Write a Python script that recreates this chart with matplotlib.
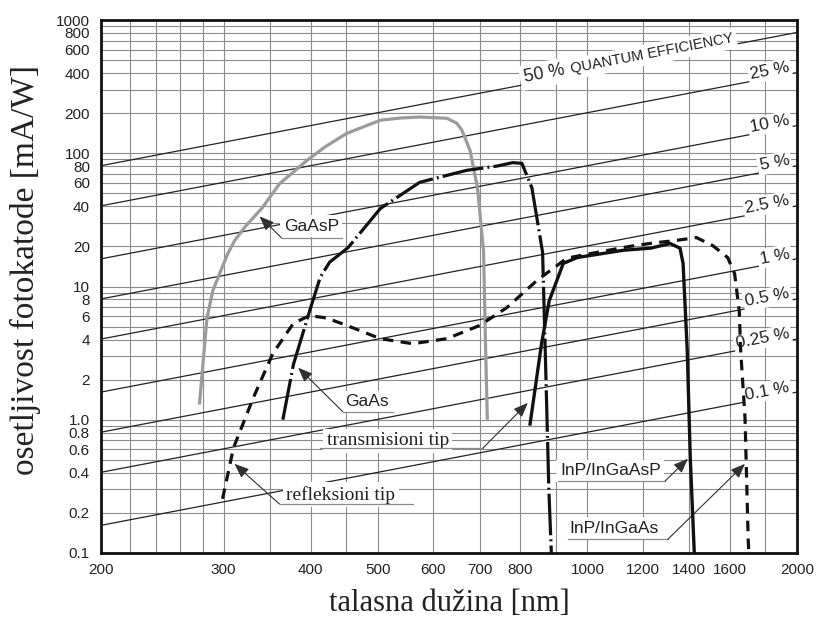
"""Photocathode radiant sensitivity vs. wavelength with quantum-efficiency guide lines."""

import numpy as np
import matplotlib

matplotlib.use("Agg")

import matplotlib.pyplot as plt
from matplotlib.patches import ArrowStyle
from matplotlib.ticker import FixedFormatter, FixedLocator, NullLocator


# GaAsP (gray, solid)
gaasp_nm = [277, 280, 284, 289.5, 297, 304, 311, 322, 333, 341, 361, 395, 420, 451, 504, 540, 574, 628, 649,
            660, 678, 695, 709, 714, 718]
gaasp_ma = [1.3, 2.5, 5.8, 9.3, 13, 17.5, 22, 28, 34, 39, 59, 88, 112, 141, 177, 184, 187, 183, 168,
            149, 105, 55, 18.6, 3.3, 1.0]

# GaAs, transmission type (dash-dot)
gaas_t_nm = [365, 378, 399, 413, 426, 453, 504, 574, 671, 740, 781, 805, 832, 862, 870, 880, 888]
gaas_t_ma = [1.0, 2.6, 6.6, 11.7, 15.2, 19.6, 38.5, 60.5, 74.5, 80, 85, 84, 55, 18, 3, 0.3, 0.09]

# GaAs / InP-InGaAs, reflection type (dashed)
refl_nm = [299, 310, 331, 353, 378, 399, 422, 451, 504, 561, 628, 700, 766, 846, 934, 1000, 1150,
           1250, 1326, 1434, 1513, 1590, 1627, 1652, 1660, 1684, 1702, 1708]
refl_ma = [0.255, 0.615, 1.46, 3.13, 5.3, 6.05, 5.8, 5.1, 4.06, 3.72, 4.06, 5.1, 6.95, 11.1, 16.3, 17.5, 20,
           21.3, 22, 23.3, 20.3, 16.5, 12.5, 6.6, 3.3, 1.03, 0.123, 0.09]

# InP/InGaAsP (black, solid)
inp_nm = [827, 859, 881, 923, 967, 1125, 1232, 1315, 1358, 1372, 1391, 1405, 1425]
inp_ma = [0.93, 3.72, 7.8, 14.9, 16.5, 18.7, 19.4, 21, 19.4, 14.9, 3.3, 0.52, 0.09]

# quantum efficiency guide lines
qe_percent = [50, 25, 10, 5, 2.5, 1, 0.5, 0.25, 0.1]
qe_labels = ["50 %", "25 %", "10 %", "5 %", "2.5 %", "1 %", "0.5 %", "0.25 %", "0.1 %"]
qe_nm = [200, 2000]

x_grid = [200, 220, 240, 260, 280, 300, 350, 400, 450, 500, 600, 700, 800, 900,
          1000, 1200, 1400, 1600, 1800, 2000]
x_ticklabels = ["200", "", "", "", "", "300", "", "400", "", "500", "600", "700", "800", "",
                "1000", "1200", "1400", "1600", "", "2000"]
y_grid = [0.1, 0.2, 0.3, 0.4, 0.5, 0.6, 0.7, 0.8, 0.9,
          1, 2, 3, 4, 5, 6, 7, 8, 9,
          10, 20, 30, 40, 50, 60, 70, 80, 90,
          100, 200, 300, 400, 500, 600, 700, 800, 900, 1000]
y_ticklabels = ["0.1", "0.2", "", "0.4", "", "0.6", "", "0.8", "",
                "1.0", "2", "", "4", "", "6", "", "8", "",
                "10", "20", "", "40", "", "60", "", "80", "",
                "100", "200", "", "400", "", "600", "", "800", "", "1000"]

SANS = ["Liberation Sans", "DejaVu Sans"]
SERIF = ["Liberation Serif", "DejaVu Serif"]
INK = "#222222"


def responsivity(qe, nm):
    # mA/W for a given quantum efficiency (%) at wavelength nm
    return qe / 100.0 * np.asarray(nm, dtype=float) / 1.24


def callout(ax, text, tip, elbow, line_end, text_at, serif=False, size=12.5):
    ax.plot([elbow[0], line_end], [elbow[1], elbow[1]], color="#8a8a8a", lw=0.9, zorder=6)
    ax.annotate(
        "",
        xy=tip,
        xytext=elbow,
        arrowprops=dict(
            arrowstyle=ArrowStyle("-|>", head_length=0.55, head_width=0.22),
            mutation_scale=16,
            lw=0.8,
            color="#303030",
            shrinkA=0,
            shrinkB=0,
        ),
        zorder=7,
    )
    ax.text(
        text_at[0], text_at[1], text,
        ha="left", va="center", fontsize=size, color=INK,
        family=SERIF if serif else SANS,
        bbox=dict(facecolor="white", edgecolor="none", pad=2.5),
        zorder=5,
    )


fig = plt.figure(figsize=(8.18, 6.23), dpi=100)
ax = fig.add_axes([101 / 818, 70 / 623, 696 / 818, 533 / 623])
ax.set_xscale("log")
ax.set_yscale("log")
ax.set_xlim(200, 2000)
ax.set_ylim(0.1, 1000)

ax.xaxis.set_major_locator(FixedLocator(x_grid))
ax.xaxis.set_major_formatter(FixedFormatter(x_ticklabels))
ax.xaxis.set_minor_locator(NullLocator())
ax.yaxis.set_major_locator(FixedLocator(y_grid))
ax.yaxis.set_major_formatter(FixedFormatter(y_ticklabels))
ax.yaxis.set_minor_locator(NullLocator())
ax.tick_params(length=0, labelsize=11, labelcolor=INK)
ax.tick_params(axis="y", pad=8)
ax.tick_params(axis="x", pad=7)
for lab in ax.get_xticklabels() + ax.get_yticklabels():
    lab.set_family(SANS)

ax.set_axisbelow(True)
ax.grid(True, which="major", color="#8c8c8c", lw=0.8)
for spine in ax.spines.values():
    spine.set_linewidth(2.0)
    spine.set_color("#111111")

# quantum efficiency lines and their labels
fig.canvas.draw()
bbox = ax.get_window_extent()
angle = np.degrees(np.arctan2(bbox.height / 4.0, bbox.width))
for qe, label in zip(qe_percent, qe_labels):
    ax.plot(qe_nm, responsivity(qe, qe_nm), color=INK, lw=0.9, zorder=3)
    if qe == 50:
        ax.text(813, responsivity(qe, 813) * 1.04, label, rotation=angle, rotation_mode="anchor",
                ha="left", va="baseline", fontsize=13, color=INK, family=SANS,
                bbox=dict(facecolor="white", edgecolor="none", pad=3.0), zorder=4)
        ax.text(948, responsivity(qe, 948) * 1.04, "QUANTUM EFFICIENCY", rotation=angle,
                rotation_mode="anchor", ha="left", va="baseline", fontsize=10.5, color=INK,
                family=SANS, bbox=dict(facecolor="white", edgecolor="none", pad=2.5), zorder=4)
    else:
        ax.text(1955, responsivity(qe, 1955) * 1.04, label, rotation=angle, rotation_mode="anchor",
                ha="right", va="baseline", fontsize=12.5, color=INK, family=SANS,
                bbox=dict(facecolor="white", edgecolor="none", pad=1.5), zorder=4)

# sensitivity curves
ax.plot(gaasp_nm, gaasp_ma, color="#9b9b9b", lw=2.3, solid_capstyle="butt", zorder=8)
ax.plot(gaas_t_nm, gaas_t_ma, color="#111111", lw=2.3, ls=(0, (13, 1.3, 0.6, 1.3)), zorder=8)
ax.plot(refl_nm, refl_ma, color="#111111", lw=2.3, ls=(0, (3.3, 2.3)), zorder=8)
ax.plot(inp_nm, inp_ma, color="#111111", lw=2.4, zorder=8)

# curve callouts
callout(ax, "GaAsP", tip=(338, 33.6), elbow=(363, 23.3), line_end=444, text_at=(366, 28.3))
callout(ax, "GaAs", tip=(384, 2.46), elbow=(445, 1.15), line_end=525, text_at=(448, 1.36))
callout(ax, "transmisioni tip", tip=(821, 1.34), elbow=(708, 0.615), line_end=413,
        text_at=(422, 0.695), serif=True, size=14)
callout(ax, "refleksioni tip", tip=(311, 0.467), elbow=(361, 0.233), line_end=561,
        text_at=(369, 0.273), serif=True, size=14)
callout(ax, "InP/InGaAsP", tip=(1394, 0.51), elbow=(1293, 0.347), line_end=906, text_at=(913, 0.414))
callout(ax, "InP/InGaAs", tip=(1684, 0.467), elbow=(1305, 0.127), line_end=938, text_at=(942, 0.154))

ax.set_xlabel("talasna dužina [nm]", family=SERIF, fontsize=22, color=INK, labelpad=9)
ax.set_ylabel("osetljivost fotokatode [mA/W]", family=SERIF, fontsize=24, color=INK)
ax.yaxis.set_label_coords(-0.086, 0.531)

fig.savefig("out.png", dpi=100, facecolor="white")
